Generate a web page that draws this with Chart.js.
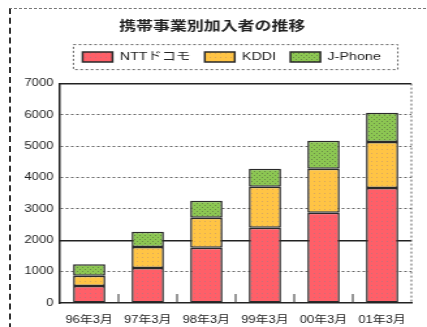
<!DOCTYPE html>
<html>
<head>
<meta charset="utf-8">
<script src="https://cdn.jsdelivr.net/npm/chart.js@4"></script>
<style>
  html, body { margin: 0; padding: 0; background: #fff; width: 427px; height: 327px; overflow: hidden; }
  #frame { position: absolute; left: 9px; top: 8px; width: 440px; height: 340px;
           border-top: 1px dashed #777; border-left: 2px dashed #333; }
  /* the source picture is stretched sideways, so the canvas is too */
  #wrap { position: absolute; left: 0; top: 0; width: 328px; height: 327px;
          transform: scaleX(1.3018); transform-origin: 0 0; }
</style>
</head>
<body>
<div id="frame"></div>
<div id="wrap"><canvas id="c" width="328" height="327"></canvas></div>
<script>
const TITLE = "携帯事業別加入者の推移";
const categories = ["96年3月", "97年3月", "98年3月", "99年3月", "00年3月", "01年3月"];
const seriesNames = ["NTTドコモ", "KDDI", "J-Phone"];
const docomo = [540, 1120, 1760, 2400, 2880, 3670];
const kddi = [330, 670, 960, 1310, 1400, 1470];
const jphone = [370, 480, 540, 570, 900, 930];
const yTicks = [0, 1000, 2000, 3000, 4000, 5000, 6000, 7000];

Chart.defaults.font.family = '"Liberation Sans", "Noto Sans CJK JP", sans-serif';
Chart.defaults.color = "#222";

const canvas = document.getElementById("c");
const ctx = canvas.getContext("2d");

// small dotted fill like the original bars
function dotted(base, dot, dense) {
  const tile = document.createElement("canvas");
  tile.width = 4; tile.height = 4;
  const g = tile.getContext("2d");
  g.fillStyle = base;
  g.fillRect(0, 0, 4, 4);
  g.fillStyle = dot;
  g.fillRect(1, 1, 1, 1);
  if (dense) g.fillRect(3, 3, 1, 1);
  return ctx.createPattern(tile, "repeat");
}

const decor = {
  id: "decor",
  afterLayout(chart) {
    chart.titleBlock.left += 5;
    chart.titleBlock.right += 5;
    chart.legend.left += 20;
    chart.legend.right += 20;
    chart.legend.top -= 11;
    chart.legend.bottom -= 11;
  },
  beforeDatasetsDraw(chart) {
    const { ctx, chartArea: a, scales: { x } } = chart;
    ctx.save();
    ctx.strokeStyle = "#333";
    ctx.lineWidth = 1;
    for (let i = 0; i < categories.length - 1; i++) {
      const px = (x.getPixelForValue(i) + x.getPixelForValue(i + 1)) / 2;
      ctx.beginPath();
      ctx.moveTo(px, a.bottom - 9);
      ctx.lineTo(px, a.bottom);
      ctx.stroke();
    }
    ctx.setLineDash([2, 2]);
    ctx.strokeStyle = "#666";
    ctx.beginPath();
    ctx.moveTo(a.right, a.top);
    ctx.lineTo(a.right, a.bottom);
    ctx.stroke();
    ctx.restore();
  },
  afterDraw(chart) {
    const boxes = chart.legend.legendHitBoxes;
    if (!boxes || !boxes.length) return;
    const first = boxes[0], last = boxes[boxes.length - 1];
    const cy = first.top + first.height / 2;
    const c = chart.ctx;
    c.save();
    c.setLineDash([2, 2]);
    c.strokeStyle = "#666";
    c.lineWidth = 1;
    c.strokeRect(first.left - 7, cy - 12.5, last.left + last.width - first.left + 20, 25);
    c.restore();
  }
};

new Chart(ctx, {
  type: "bar",
  data: {
    labels: categories,
    datasets: [
      { label: seriesNames[0], data: docomo, backgroundColor: dotted("#ff5f68", "#c8707a", false) },
      { label: seriesNames[1], data: kddi, backgroundColor: dotted("#ffc445", "#d8a860", false) },
      { label: seriesNames[2], data: jphone, backgroundColor: dotted("#8cc652", "#6a8a48", true) }
    ].map(d => Object.assign(d, {
      borderColor: "#2a2a2a",
      borderWidth: 1.5,
      borderSkipped: false,
      barPercentage: 0.55,
      categoryPercentage: 1
    }))
  },
  options: {
    responsive: false,
    animation: false,
    layout: { padding: { top: 10, left: 0, right: 12, bottom: 0 } },
    plugins: {
      title: {
        display: true,
        text: TITLE,
        color: "#222",
        font: { size: 13, weight: "bold" },
        padding: { top: 9, bottom: 17 }
      },
      legend: {
        display: true,
        labels: {
          boxWidth: 23,
          boxHeight: 10,
          padding: 11,
          font: { size: 11 },
          color: "#222"
        }
      },
      tooltip: { enabled: false }
    },
    scales: {
      x: {
        stacked: true,
        grid: { display: false },
        border: { display: true, color: "#222", width: 1.5 },
        ticks: { font: { size: 10 }, padding: 3, maxRotation: 0, autoSkip: false },
        afterFit: s => { s.height = 24; }
      },
      y: {
        stacked: true,
        min: 0,
        max: 7000,
        afterBuildTicks: s => { s.ticks = yTicks.map(v => ({ value: v })); },
        ticks: { font: { size: 10 }, padding: 5, callback: v => String(v) },
        grid: {
          drawTicks: false,
          lineWidth: 1,
          color: c => (c.tick && [1000, 3000, 4000, 5000, 6000].includes(c.tick.value)) ? "#666" : "rgba(0,0,0,0)"
        },
        border: { display: true, color: "#222", width: 1.5, dash: [2, 2] },
        afterFit: s => { s.width = 46; }
      },
      y2: {
        position: "left",
        min: 0,
        max: 7000,
        afterBuildTicks: s => { s.ticks = yTicks.map(v => ({ value: v })); },
        ticks: { display: false },
        grid: {
          drawTicks: false,
          lineWidth: 1.5,
          color: c => (c.tick && (c.tick.value === 2000 || c.tick.value === 7000)) ? "#222" : "rgba(0,0,0,0)"
        },
        border: { display: false },
        afterFit: s => { s.width = 0; }
      }
    }
  },
  plugins: [decor]
});
</script>
</body>
</html>
